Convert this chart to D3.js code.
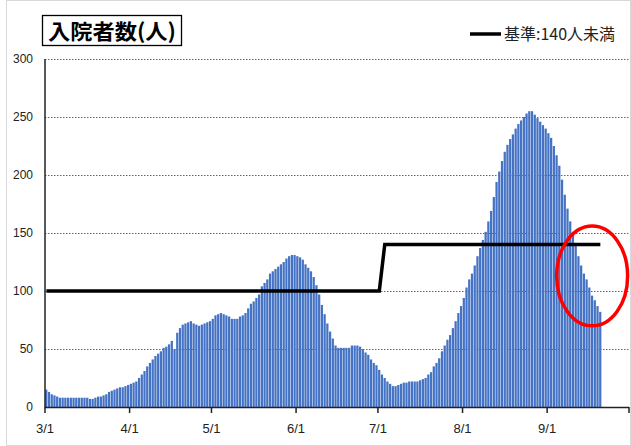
<!DOCTYPE html>
<html><head><meta charset="utf-8">
<script src="https://cdn.jsdelivr.net/npm/d3@7"></script>
<style>html,body{margin:0;padding:0;background:#fff;}</style>
</head><body>
<svg id="c" width="631" height="446"></svg>
<script>
// Daily inpatients, 3/1 (index 0) through 9/20 (index 203)
const startDate = "2021-03-01";
const dayCount = 214; // 3/1 .. 9/30 axis span
const inpatients = [
 15,13,11,10,9,8,8,8,8,8,
 8,8,8,8,8,8,7,7,8,9,
 9,10,11,13,14,15,16,17,17,18,
 19,20,21,22,25,28,31,35,38,41,
 44,46,48,51,52,54,57,50,64,68,
 71,72,73,74,72,71,70,71,72,73,
 74,76,79,80,81,80,79,78,76,76,
 76,78,79,81,85,89,91,94,97,104,
 107,110,115,117,119,121,123,125,128,130,
 131,131,130,129,127,123,120,117,112,105,
 97,88,80,72,65,59,53,51,51,51,
 51,51,53,53,53,52,50,47,45,41,
 38,36,32,28,25,22,20,18,18,19,
 20,21,21,22,22,22,22,23,24,25,
 28,30,35,38,42,48,53,58,62,68,
 74,81,87,94,103,110,115,122,130,137,
 144,151,160,169,181,194,203,212,220,226,
 231,235,240,244,247,250,253,255,255,252,
 249,246,243,240,236,232,225,217,208,196,
 183,171,160,151,141,130,122,115,110,103,
 96,92,87,82
];
// Criterion line (index, value)
const criterionIdx = [0, 122, 124, 203];
const criterionVal = [100, 100, 140, 140];
// Month ticks
const tickIdx = [0, 31, 61, 92, 122, 153, 184, 214];
const tickLabels = ["3/1","4/1","5/1","6/1","7/1","8/1","9/1",""];
const yTicks = [0,50,100,150,200,250,300];
const gridVals = [50,100,150,200,250,300];
const titleText = "入院者数(人)";
const legendText = "基準:140人未満";
// Annotation ellipse (in data units)
const markIdx = 200, markVal = 113, markHalfDays = 13, markHalfVal = 43;

const svg = d3.select("#c");
const L = 45, R = 629, T = 59, B = 407;
const x = d3.scaleLinear().domain([0, dayCount]).range([L, R]);
const y = d3.scaleLinear().domain([0, 300]).range([B, T]);
const bw = x(1) - x(0);

// outer frame
svg.append("rect").attr("x",6.5).attr("y",0.5).attr("width",624).attr("height",445)
  .attr("fill","none").attr("stroke","#d9d9d9");

// grid
svg.append("g").selectAll("line").data(gridVals).join("line")
  .attr("x1",L).attr("x2",R).attr("y1",d=>Math.round(y(d))+0.5).attr("y2",d=>Math.round(y(d))+0.5)
  .attr("stroke","#666").attr("stroke-width",1).attr("stroke-dasharray","1.5,1.5");

// bars
svg.append("g").selectAll("rect").data(inpatients).join("rect")
  .attr("x",(d,i)=>x(i)+0.15)
  .attr("width",bw*0.82)
  .attr("y",d=>y(d))
  .attr("height",d=>y(0)-y(d))
  .attr("fill","#4472C4");

// criterion line
const line = d3.line().x(d=>x(d[0])+bw/2).y(d=>y(d[1]));
svg.append("path").datum(criterionIdx.map((d,i)=>[d,criterionVal[i]]))
  .attr("d",line).attr("fill","none").attr("stroke","#000").attr("stroke-width",3.5)
  .attr("stroke-linejoin","miter");

// axes
svg.append("line").attr("x1",L).attr("x2",L).attr("y1",T).attr("y2",B)
  .attr("stroke","#222").attr("stroke-width",1.5);
svg.append("line").attr("x1",L-0.5).attr("x2",R).attr("y1",B+0.5).attr("y2",B+0.5)
  .attr("stroke","#222").attr("stroke-width",1.5);
svg.append("g").selectAll("line").data(tickIdx).join("line")
  .attr("x1",d=>x(d)).attr("x2",d=>x(d)).attr("y1",B).attr("y2",B+6)
  .attr("stroke","#222").attr("stroke-width",1.5);
svg.append("g").selectAll("text").data(tickIdx).join("text")
  .attr("x",d=>x(d)).attr("y",B+26).attr("text-anchor","middle")
  .attr("font-family","Liberation Sans, Arial, sans-serif").attr("font-size",13).attr("fill","#222")
  .text((d,i)=>tickLabels[i]);
svg.append("g").selectAll("text").data(yTicks).join("text")
  .attr("x",33).attr("y",d=>y(d)+4).attr("text-anchor","end")
  .attr("font-family","Liberation Sans, Arial, sans-serif").attr("font-size",12).attr("fill","#222")
  .text(d=>d);

// title
svg.append("rect").attr("x",42.5).attr("y",15.5).attr("width",139).attr("height",30)
  .attr("fill","#fff").attr("stroke","#000").attr("stroke-width",1.3);
svg.append("text").attr("x",112).attr("y",38.5).attr("text-anchor","middle")
  .attr("font-family","Noto Sans CJK JP, sans-serif").attr("font-weight","bold").attr("font-size",21)
  .attr("textLength",128).attr("lengthAdjust","spacingAndGlyphs")
  .text(titleText);

// legend
svg.append("line").attr("x1",470).attr("x2",501).attr("y1",34).attr("y2",34)
  .attr("stroke","#000").attr("stroke-width",3.5);
svg.append("text").attr("x",504).attr("y",40)
  .attr("font-family","Noto Sans CJK JP, sans-serif").attr("font-size",16).attr("fill","#222")
  .text(legendText);

// annotation ellipse
svg.append("ellipse")
  .attr("cx",x(markIdx)+bw/2).attr("cy",y(markVal))
  .attr("rx",x(markHalfDays)-x(0)).attr("ry",y(0)-y(markHalfVal))
  .attr("fill","none").attr("stroke","#ff0000").attr("stroke-width",3.5);
</script>
</body></html>
